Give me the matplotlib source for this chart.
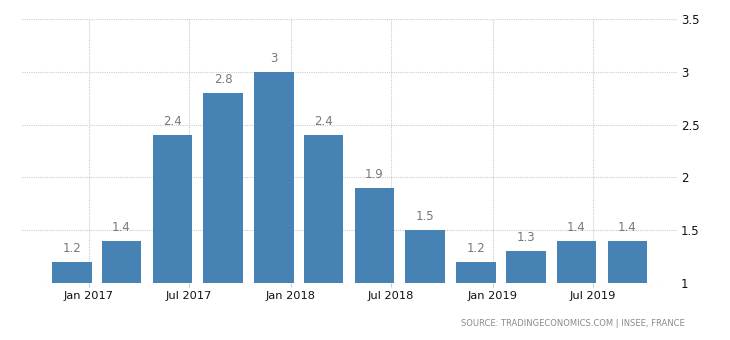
import pandas as pd
import matplotlib
matplotlib.use("Agg")
import matplotlib.pyplot as plt
import matplotlib.dates as mdates

# quarterly values, plotted at the last month of each quarter
quarters = ["2016-12-01", "2017-03-01", "2017-06-01", "2017-09-01",
            "2017-12-01", "2018-03-01", "2018-06-01", "2018-09-01",
            "2018-12-01", "2019-03-01", "2019-06-01", "2019-09-01"]
values = [1.2, 1.4, 2.4, 2.8, 3.0, 2.4, 1.9, 1.5, 1.2, 1.3, 1.4, 1.4]
value_labels = ["1.2", "1.4", "2.4", "2.8", "3", "2.4", "1.9", "1.5", "1.2", "1.3", "1.4", "1.4"]
yticks = [1, 1.5, 2, 2.5, 3, 3.5]
ytick_labels = ["1", "1.5", "2", "2.5", "3", "3.5"]

dates = pd.to_datetime(quarters)

fig = plt.figure(figsize=(7.3, 3.4), dpi=100)
ax = fig.add_axes([0.030, 0.1676, 0.897, 0.7765])

ax.bar(dates, values, width=72, bottom=0, color="#4682b4", zorder=2)

for d, v, lab in zip(dates, values, value_labels):
    ax.annotate(lab, (d, v), xytext=(0, 5), textcoords="offset points",
                ha="center", va="bottom", fontsize=8.5, color="#777777")

ax.set_ylim(1, 3.5)
ax.set_xlim(pd.Timestamp("2016-09-02"), pd.Timestamp("2019-11-29"))

ax.set_yticks(yticks)
ax.set_yticklabels(ytick_labels)
ax.yaxis.tick_right()

ax.xaxis.set_major_locator(mdates.MonthLocator(bymonth=[1, 7]))
ax.xaxis.set_major_formatter(mdates.DateFormatter("%b %Y"))

ax.grid(True, color="#cccccc", linestyle=(0, (1, 1)), linewidth=0.8, zorder=0)
for s in ax.spines.values():
    s.set_visible(False)

ax.tick_params(axis="y", length=0, pad=3, labelsize=8.5, labelcolor="#111111")
ax.tick_params(axis="x", length=3, color="#cccccc", pad=3, labelsize=8.2, labelcolor="#111111")

fig.text(0.938, 0.035, "SOURCE: TRADINGECONOMICS.COM | INSEE, FRANCE",
         ha="right", va="bottom", fontsize=6, color="#8a8a8a")

fig.savefig("out.png", dpi=100)
